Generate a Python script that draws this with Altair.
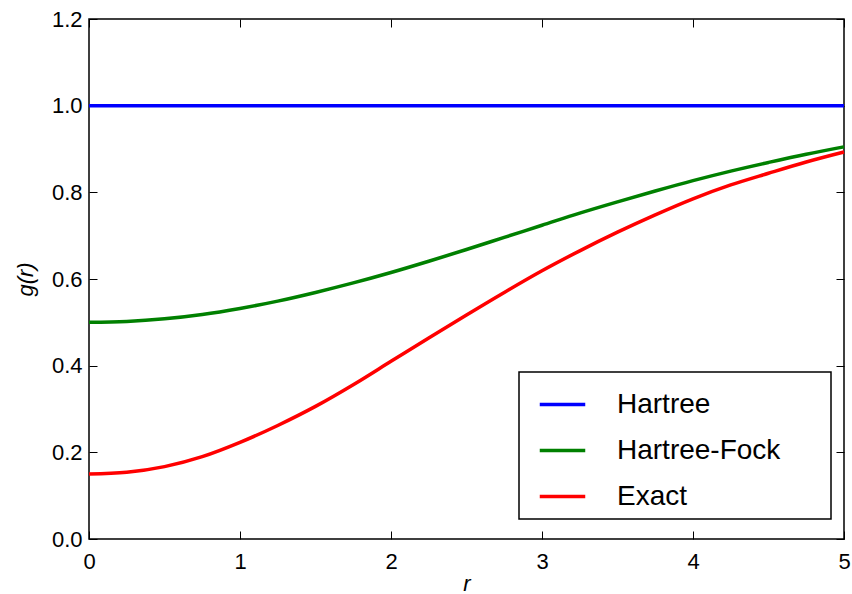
import altair as alt
import pandas as pd

# Radial grid and pair-correlation values for the three approximations
r_values = [0.0, 0.25, 0.5, 0.75, 1.0, 1.25, 1.5, 1.75, 2.0, 2.25, 2.5,
            2.75, 3.0, 3.25, 3.5, 3.75, 4.0, 4.25, 4.5, 4.75, 5.0]
g_hartree = [1.0, 1.0, 1.0, 1.0, 1.0, 1.0, 1.0, 1.0, 1.0, 1.0, 1.0,
             1.0, 1.0, 1.0, 1.0, 1.0, 1.0, 1.0, 1.0, 1.0, 1.0]
g_hartree_fock = [0.500, 0.502, 0.508, 0.518, 0.532, 0.549, 0.569, 0.591,
                  0.615, 0.641, 0.668, 0.696, 0.724, 0.752, 0.778, 0.803,
                  0.827, 0.849, 0.869, 0.888, 0.905]
g_exact = [0.150, 0.154, 0.167, 0.190, 0.223, 0.262, 0.306, 0.356,
           0.410, 0.464, 0.517, 0.569, 0.619, 0.665, 0.708, 0.748,
           0.785, 0.817, 0.844, 0.870, 0.893]

series_names = ["Hartree", "Hartree-Fock", "Exact"]
series_colors = ["#0000ff", "#008000", "#ff0000"]
x_ticks = [0, 1, 2, 3, 4, 5]
y_ticks = [0.0, 0.2, 0.4, 0.6, 0.8, 1.0, 1.2]

rows = []
for name, values in zip(series_names, [g_hartree, g_hartree_fock, g_exact]):
    for r, g in zip(r_values, values):
        rows.append({"r": r, "g": g, "series": name})
df = pd.DataFrame(rows)

FONT = "Liberation Sans"
x_scale = alt.Scale(domain=[0, 5], nice=False, zero=False)
y_scale = alt.Scale(domain=[0, 1.2], nice=False, zero=True)

# Bottom / left axes: inward ticks, labels outside the frame
x_axis = alt.Axis(values=x_ticks, format="d", domain=False, grid=False,
                  ticks=True, tickSize=8, tickColor="black", tickWidth=1,
                  offset=-8, labelPadding=12, labelFont=FONT, labelFontSize=22,
                  labelColor="black", labelFlush=False,
                  title="r", titleFont=FONT, titleFontSize=22,
                  titleFontStyle="italic", titleFontWeight="normal",
                  titleColor="black", titlePadding=1)
y_axis = alt.Axis(values=y_ticks, format=".1f", domain=False, grid=False,
                  ticks=True, tickSize=8, tickColor="black", tickWidth=1,
                  offset=-8, labelPadding=7, labelFont=FONT, labelFontSize=22,
                  labelColor="black", labelFlush=False,
                  title="g(r)", titleFont=FONT, titleFontSize=22,
                  titleFontStyle="italic", titleFontWeight="normal",
                  titleColor="black", titlePadding=14)

# Top / right axes: inward ticks only
x_axis_top = alt.Axis(orient="top", values=x_ticks, domain=False, grid=False,
                      labels=False, ticks=True, tickSize=8, tickColor="black",
                      tickWidth=1, offset=-8, title=None)
y_axis_right = alt.Axis(orient="right", values=y_ticks, domain=False, grid=False,
                        labels=False, ticks=True, tickSize=8, tickColor="black",
                        tickWidth=1, offset=-8, title=None)

# Blank braille cells widen the legend box on its right side
pad = "\u2800" * 2
legend = alt.Legend(
    title=None, orient="none", legendX=430, legendY=353,
    symbolType="stroke", symbolSize=2070, symbolStrokeWidth=3.5,
    symbolOffset=11, labelOffset=30, padding=8, rowPadding=7,
    labelFont=FONT, labelFontSize=28, labelColor="black", labelLimit=400,
    labelExpr=f"datum.label + '{pad}'",
    strokeColor="black", fillColor="white", cornerRadius=0,
)

lines = alt.Chart(df).mark_line(strokeWidth=3.5, interpolate="monotone").encode(
    x=alt.X("r:Q", scale=x_scale, axis=x_axis),
    y=alt.Y("g:Q", scale=y_scale, axis=y_axis),
    color=alt.Color("series:N", sort=series_names,
                    scale=alt.Scale(domain=series_names, range=series_colors),
                    legend=legend),
)

# Invisible copy carrying the top and right tick marks
frame = alt.Chart(df).mark_line(strokeOpacity=0).encode(
    x=alt.X("r:Q", scale=x_scale, axis=x_axis_top),
    y=alt.Y("g:Q", scale=y_scale, axis=y_axis_right),
    detail="series:N",
)

chart = (
    alt.layer(lines, frame)
    .resolve_axis(x="independent", y="independent")
    .properties(width=755, height=520, autosize="none",
                padding={"left": 89, "top": 19, "right": 8, "bottom": 55},
                background="white")
    .configure_view(stroke="black", strokeWidth=1.5)
    .configure_legend(strokeWidth=1.5)
)

chart.save("out.html", embed_options={"renderer": "svg", "actions": False})
